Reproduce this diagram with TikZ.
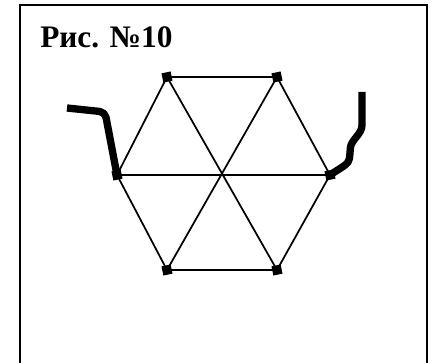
\documentclass[tikz,border=0pt]{standalone}
\usepackage{fontspec}
\setmainfont{Liberation Serif}
\usepackage{tikz}
\usetikzlibrary{calc}

\tikzset{
  vtx/.style={rectangle,fill=black,inner sep=0pt,minimum size=7pt,rotate=12},
  edge/.style={line width=1.3pt},
  wire/.style={line width=5.5pt,line join=round,rounded corners=4pt}
}

\begin{document}
\begin{tikzpicture}[x=0.75pt,y=-0.75pt]
\useasboundingbox (0,0) rectangle (437,363);
\draw[line width=1.6pt] (20,370) -- (20,5) -- (427,5) -- (427,370);
\node[anchor=base west,inner sep=0pt,font=\bfseries\fontsize{23.5}{28}\selectfont] (title) at (40,48) {Рис. №10};
% hexagon
\coordinate (c) at (222,175);
\coordinate (p1) at (117,175);
\coordinate (p2) at (167,77);
\coordinate (p3) at (277,77);
\coordinate (p4) at (330,175);
\coordinate (p5) at (277,270);
\coordinate (p6) at (167,270);
\foreach \a/\b in {1/2,2/3,3/4,4/5,5/6,6/1}{
  \draw[edge] (p\a) -- (p\b);
}
\draw[edge] (p1) -- (p4) (p2) -- (p5) (p3) -- (p6);
% thick leads
\draw[wire] (p1) -- (105,112) -- (67,108);
\draw[wire] (p4) .. controls (342,167) and (349,164) .. (350,153)
  .. controls (351,140) and (362,134) .. (362,120) -- (362,92);
\foreach \n in {1,...,6}{
  \node[vtx] (v\n) at (p\n) {};
}
\end{tikzpicture}
\end{document}
